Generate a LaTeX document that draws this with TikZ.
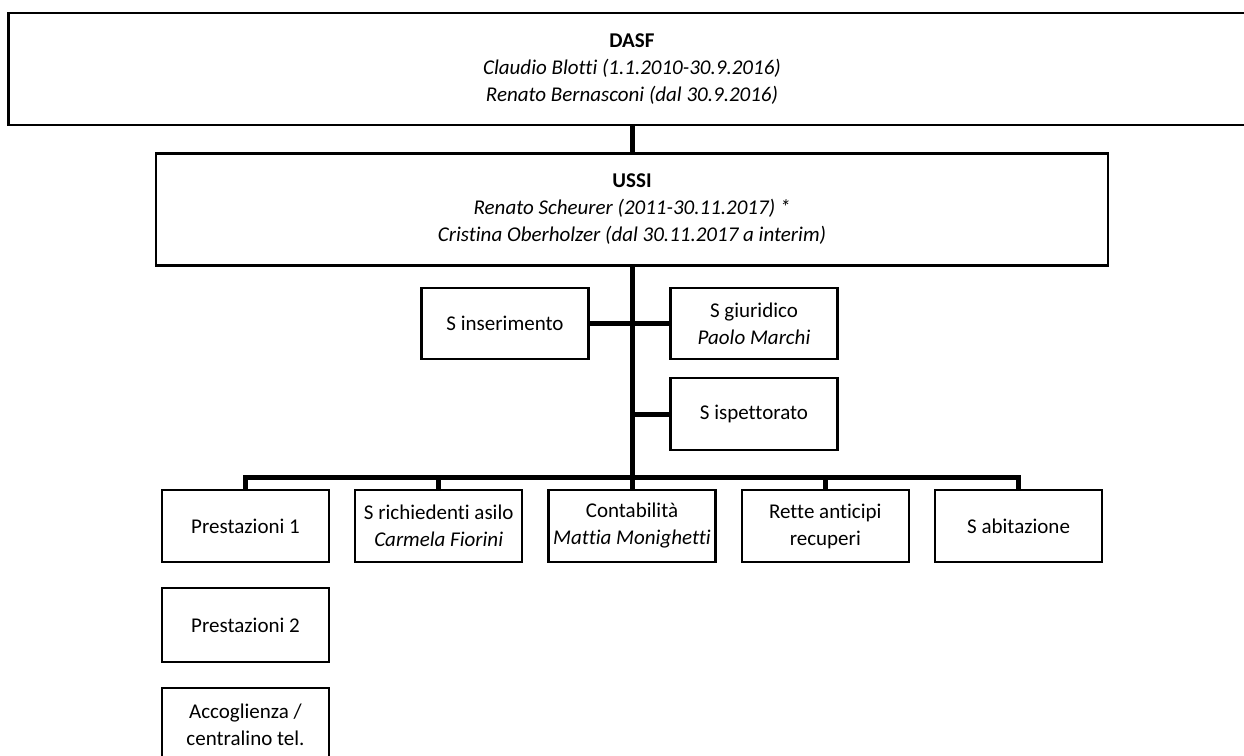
\documentclass[tikz,border=0pt]{standalone}
\usepackage{fontspec}
\setmainfont{Carlito}[Ligatures=NoCommon]
\usetikzlibrary{positioning}

\begin{document}
\begin{tikzpicture}[x=0.5pt, y=-0.5pt,
  box/.style={draw, line width=1.1pt, align=center, minimum width=83.5pt, minimum height=36pt, inner sep=1pt, font=\fontsize{10.5}{13.5}\selectfont},
  bigbox/.style={box, minimum height=56pt, font=\fontsize{10.5}{13.5}\selectfont},
  link/.style={line width=2.5pt}]
\clip (0,0) rectangle (1244,756);
\node[bigbox, minimum width=623.5pt] at (632,69) (dasf) {\textbf{DASF}\\\textit{Claudio Blotti (1.1.2010-30.9.2016)}\\\textit{Renato Bernasconi (dal 30.9.2016)}};
\node[bigbox, minimum width=476pt] at (632,209.5) (ussi) {\textbf{USSI}\\\textit{Renato Scheurer (2011-30.11.2017) *}\\\textit{Cristina Oberholzer (dal 30.11.2017 a interim)}};
\node[box, minimum height=35.5pt] at (505,323.5) (inser) {S inserimento};
\node[box, minimum height=35.5pt] at (754,323.5) (giur) {S giuridico\\\textit{Paolo Marchi}};
\node[box] at (754,414) (isp) {S ispettorato};
\node[box] at (245.5,526) (prest1) {Prestazioni 1};
\node[box] at (438.7,526) (asilo) {S richiedenti asilo\\\textit{Carmela Fiorini}};
\node[box] at (632,526) (conta) {Contabilità\\\textit{Mattia Monighetti}};
\node[box] at (825.3,526) (rette) {Rette anticipi\\recuperi};
\node[box] at (1018.6,526) (abit) {S abitazione};
\node[box, minimum height=37pt] at (245.5,625) (prest2) {Prestazioni 2};
\node[box, minimum height=37pt] at (245.5,725) (accog) {Accoglienza /\\centralino tel.};
\coordinate (bus) at (632,477);
\draw[link] (dasf) -- (ussi);
\draw[link] (ussi.south) -- (bus);
\draw[link] (inser.east) -- (giur.west);
\draw[link] (isp.west) -- (isp.west -| bus);
\draw[link] (prest1.north) |- (bus) -| (abit.north);
\draw[link] (asilo.north) -- (asilo.north |- bus);
\draw[link] (conta.north) -- (bus);
\draw[link] (rette.north) -- (rette.north |- bus);
\end{tikzpicture}
\end{document}
